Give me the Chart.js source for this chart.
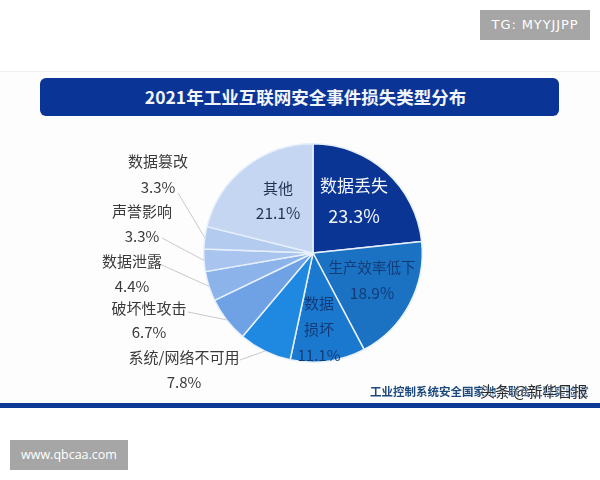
<!DOCTYPE html>
<html>
<head>
<meta charset="utf-8">
<script src="https://cdn.jsdelivr.net/npm/chart.js@4"></script>
<style>
  html, body { margin: 0; padding: 0; background: #fff; }
  body { position: relative; width: 600px; height: 480px; overflow: hidden; font-family: "Noto Sans CJK SC", sans-serif; }
  div { position: absolute; box-sizing: border-box; }
  #panel { left: 0; top: 71px; width: 600px; height: 337px; background: #fdfdfd; border-top: 1px solid #f0f0f0; }
  #band { left: 0; top: 403px; width: 600px; height: 5px; background: #0d3a94; }
  #titleBar { left: 40px; top: 78px; width: 519px; height: 38px; background: #0a3597; border-radius: 6px;
    color: #f2f6fb; font-size: 17.5px; font-weight: 700; line-height: 37px; text-align: center; padding-right: 0; }
  #titleBar span { position: relative; left: 6px; }
  .mark { background: #a6a6a6; color: #fff; height: 30px; line-height: 29px; text-align: center; }
  #tg { left: 480px; top: 10px; width: 110px; font: 13px/29px "DejaVu Sans", sans-serif; letter-spacing: 0.9px; }
  #site { left: 10px; top: 440px; width: 118px; font: 12.5px/29px "Open Sans", sans-serif; }
  #source { left: 370px; top: 383px; font-size: 11.5px; font-weight: 700; color: #1d4a7d; white-space: nowrap; line-height: 17px; }
  #stamp { left: 480px; top: 380px; font-size: 15px; color: #2a2a2a; white-space: nowrap; line-height: 22px;
    text-shadow: 0 0 2px #fff, 0 0 2px #fff; }
  canvas { position: absolute; left: 0; top: 0; }
</style>
</head>
<body>
<div id="panel"></div>
<div id="band"></div>
<div id="titleBar"><span>2021年工业互联网安全事件损失类型分布</span></div>
<div id="tg" class="mark">TG: MYYJJPP</div>
<div id="site" class="mark">www.qbcaa.com</div>
<canvas id="pie" width="600" height="480"></canvas>
<div id="source">工业控制系统安全国家地方联合工程实验室</div>
<div id="stamp">头条 @新华日报</div>
<script>
const categories = ["数据丢失", "生产效率低下", "数据损坏", "系统/网络不可用", "破坏性攻击", "数据泄露", "声誉影响", "数据篡改", "其他"];
const shares = [23.3, 18.9, 11.1, 7.8, 6.7, 4.4, 3.3, 3.3, 21.1];
const sliceColors = ["#0a3595", "#1b72c2", "#1a78cf", "#1f88e0", "#6fa2e4", "#8cb4ea", "#a9c5ef", "#b4cbf0", "#c5d6f3"];

// where each slice's text sits: name rows then the percent row, centre x and y per row
const labelX = [354, 372, 319, 184, 149, 132, 142, 158, 278];
const labelRows = [
  [[categories[0], 186], ["", 216]],
  [[categories[1], 267], ["", 293]],
  [["数据", 303], ["损坏", 329], ["", 355]],
  [[categories[3], 357], ["", 382]],
  [[categories[4], 308], ["", 332]],
  [[categories[5], 261], ["", 286]],
  [[categories[6], 211], ["", 236]],
  [[categories[7], 161], ["", 187]],
  [[categories[8], 188], ["", 213]]
];
const labelColors = ["#f4f8fd", "#123c78", "#123c78", "#3a3a3a", "#3a3a3a", "#3a3a3a", "#3a3a3a", "#3a3a3a", "#1f3350"];
const labelSizes = [17, 14.5, 15, 15, 15, 15, 15, 15, 15];
const pctSizes = [18, 15.5, 15, 15, 15, 15, 15, 15, 15.5];

// leader line start for the outside labels, other end is taken from the arc
const leaderStart = { 3: [240, 360], 4: [188, 312], 5: [162, 265], 6: [162, 238], 7: [178, 193] };

const sliceLabels = {
  id: "sliceLabels",
  afterDatasetsDraw(chart) {
    const ctx = chart.ctx;
    const arcs = chart.getDatasetMeta(0).data;
    ctx.save();
    ctx.strokeStyle = "#c9c9c9";
    ctx.lineWidth = 1;
    for (const i in leaderStart) {
      const mid = (arcs[i].startAngle + arcs[i].endAngle) / 2;
      ctx.beginPath();
      ctx.moveTo(leaderStart[i][0], leaderStart[i][1]);
      ctx.lineTo(arcs[i].x + Math.cos(mid) * arcs[i].outerRadius, arcs[i].y + Math.sin(mid) * arcs[i].outerRadius);
      ctx.stroke();
    }
    ctx.textAlign = "center";
    ctx.textBaseline = "middle";
    labelRows.forEach((rows, i) => {
      ctx.fillStyle = labelColors[i];
      rows.forEach(row => {
        const isPct = row[0] === "";
        ctx.font = (isPct ? pctSizes[i] : labelSizes[i]) + 'px "Noto Sans CJK SC", sans-serif';
        ctx.fillText(isPct ? shares[i].toFixed(1) + "%" : row[0], labelX[i], row[1]);
      });
    });
    ctx.restore();
  }
};

new Chart(document.getElementById("pie"), {
  type: "pie",
  data: {
    labels: categories,
    datasets: [{
      data: shares,
      backgroundColor: sliceColors,
      borderColor: "#e6f0fb",
      borderWidth: 1.5
    }]
  },
  options: {
    responsive: false,
    animation: false,
    layout: { padding: { left: 203, right: 177, top: 143, bottom: 117 } },
    plugins: { legend: { display: false }, tooltip: { enabled: false }, title: { display: false } }
  },
  plugins: [sliceLabels]
});
</script>
</body>
</html>
